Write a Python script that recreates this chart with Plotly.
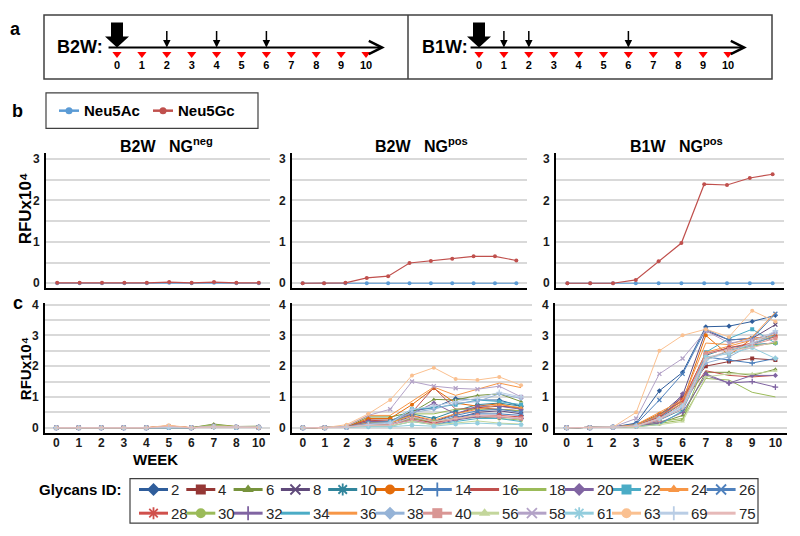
import plotly.graph_objects as go

# The page body has an 8px margin: the figure is drawn 8px in from the window corner.
OFF = 8
W, H = 784, 520
FONT = "Liberation Sans"

# ---------------- Panel a: immunisation schedule ----------------
schedule_weeks = [0, 1, 2, 3, 4, 5, 6, 7, 8, 9, 10]
prime_week = 0
b2w_boost_weeks = [2, 4, 6]
b1w_boost_weeks = [1, 2, 6]

# ---------------- Panel b: Neu5Ac / Neu5Gc ----------------
weeks_b2w_neg = ["0", "1", "2", "3", "4", "5", "6", "7", "8", "10"]
weeks_b2w_pos = ["0", "1", "2", "3", "4", "5", "6", "7", "8", "9", "10"]
weeks_b1w_pos = ["0", "1", "2", "3", "5", "6", "7", "8", "9", "10"]

neu5ac_b2w_neg = [0.00, 0.00, 0.00, 0.00, 0.00, 0.01, 0.00, 0.01, 0.00, 0.00]
neu5gc_b2w_neg = [0.01, 0.01, 0.01, 0.01, 0.01, 0.03, 0.01, 0.03, 0.01, 0.01]
neu5ac_b2w_pos = [0.00, 0.00, 0.00, 0.00, 0.00, 0.00, 0.00, 0.00, 0.00, 0.00, 0.00]
neu5gc_b2w_pos = [0.00, 0.00, 0.01, 0.13, 0.17, 0.49, 0.54, 0.59, 0.65, 0.65, 0.55]
neu5ac_b1w_pos = [0.00, 0.00, 0.00, 0.00, 0.00, 0.00, 0.00, 0.00, 0.00, 0.00]
neu5gc_b1w_pos = [0.00, 0.00, 0.00, 0.08, 0.53, 0.97, 2.39, 2.37, 2.54, 2.63]

# ---------------- Panel c: individual glycans ----------------
glycan_ids = ["2", "4", "6", "8", "10", "12", "14", "16", "18", "20", "22", "24", "26",
              "28", "30", "32", "34", "36", "38", "40", "56", "58", "61", "63", "69", "75"]
glycan_colors = ["#2F5D9B", "#953735", "#77933C", "#604A7B", "#31859C", "#E46C0A", "#4A7EBB",
                 "#C0504D", "#9BBB59", "#8064A2", "#4BACC6", "#F79646", "#4F81BD",
                 "#D0504C", "#9BBB59", "#8064A2", "#4BACC6", "#F79646", "#95B3D7", "#D99694",
                 "#C3D69B", "#B3A2C7", "#93CDDD", "#FAC090", "#B9CDE5", "#E6B9B8"]
glycan_symbols = ["diamond", "square", "triangle-up", "x-thin-open", "asterisk-open", "circle",
                  "cross-thin-open", None, None, "diamond", "square", "triangle-up", "x-thin-open",
                  "asterisk-open", "circle", "cross-thin-open", None, None, "diamond", "square",
                  "triangle-up", "x-thin-open", "asterisk-open", "circle", "cross-thin-open", None]

# B2W NGneg (weeks 0,1,2,3,4,5,6,7,8,10), one row per glycan in glycan_ids order
gly_b2w_neg = [
    [0, 0, 0, 0, 0, 0.03, 0, 0.04, 0.02, 0.01],   # 2
    [0, 0, 0, 0, 0, 0.02, 0, 0.03, 0.02, 0.01],   # 4
    [0, 0, 0, 0, 0, 0.04, 0, 0.12, 0.04, 0.05],   # 6
    [0, 0, 0, 0, 0, 0.03, 0, 0.05, 0.02, 0.02],   # 8
    [0, 0, 0, 0, 0, 0.01, 0, 0.03, 0.02, 0.01],   # 10
    [0, 0, 0, 0, 0, 0.05, 0, 0.06, 0.03, 0.02],   # 12
    [0, 0, 0, 0, 0, 0.02, 0, 0.04, 0.02, 0.01],   # 14
    [0, 0, 0, 0, 0, 0.06, 0, 0.05, 0.03, 0.02],   # 16
    [0, 0, 0, 0, 0, 0.03, 0, 0.10, 0.03, 0.04],   # 18
    [0, 0, 0, 0, 0, 0.02, 0, 0.06, 0.02, 0.02],   # 20
    [0, 0, 0, 0, 0, 0.01, 0, 0.03, 0.01, 0.01],   # 22
    [0, 0, 0, 0, 0, 0.04, 0, 0.05, 0.03, 0.02],   # 24
    [0, 0, 0, 0, 0, 0.02, 0, 0.04, 0.02, 0.01],   # 26
    [0, 0, 0, 0, 0, 0.03, 0, 0.03, 0.02, 0.01],   # 28
    [0, 0, 0, 0, 0, 0.02, 0, 0.07, 0.03, 0.03],   # 30
    [0, 0, 0, 0, 0, 0.02, 0, 0.04, 0.02, 0.01],   # 32
    [0, 0, 0, 0, 0, 0.01, 0, 0.02, 0.01, 0.01],   # 34
    [0, 0, 0, 0, 0, 0.06, 0, 0.04, 0.03, 0.02],   # 36
    [0, 0, 0, 0, 0, 0.02, 0, 0.03, 0.02, 0.01],   # 38
    [0, 0, 0, 0, 0, 0.05, 0, 0.03, 0.02, 0.01],   # 40
    [0, 0, 0, 0, 0, 0.02, 0, 0.06, 0.03, 0.03],   # 56
    [0, 0, 0, 0, 0, 0.03, 0, 0.04, 0.02, 0.01],   # 58
    [0, 0, 0, 0, 0, 0.01, 0, 0.02, 0.01, 0.01],   # 61
    [0, 0, 0, 0, 0, 0.08, 0, 0.02, 0.02, 0.01],   # 63
    [0, 0, 0, 0, 0, 0.02, 0, 0.03, 0.02, 0.01],   # 69
    [0, 0, 0, 0, 0, 0.04, 0, 0.03, 0.02, 0.01],   # 75
]

# B2W NGpos (weeks 0..10)
gly_b2w_pos = [
    [0, 0, 0.02, 0.15, 0.20, 0.55, 0.65, 0.95, 0.90, 0.90, 0.70],   # 2
    [0, 0, 0.02, 0.25, 0.25, 0.40, 0.20, 0.45, 0.65, 0.70, 0.65],   # 4
    [0, 0, 0.02, 0.35, 0.35, 0.50, 0.92, 0.90, 1.05, 1.10, 0.85],   # 6
    [0, 0, 0.02, 0.20, 0.18, 0.35, 0.15, 0.30, 0.50, 0.55, 0.45],   # 8
    [0, 0, 0.02, 0.10, 0.15, 0.45, 0.30, 0.55, 0.75, 0.80, 0.70],   # 10
    [0, 0, 0.02, 0.30, 0.30, 0.75, 1.28, 0.80, 0.70, 0.78, 0.60],   # 12
    [0, 0, 0.02, 0.10, 0.10, 0.30, 0.15, 0.35, 0.45, 0.45, 0.40],   # 14
    [0, 0, 0.02, 0.25, 0.20, 0.50, 1.30, 0.60, 0.65, 0.60, 0.55],   # 16
    [0, 0, 0.02, 0.20, 0.15, 0.45, 0.45, 0.60, 0.60, 0.60, 0.55],   # 18
    [0, 0, 0.02, 0.20, 0.20, 0.45, 0.80, 0.45, 0.70, 0.70, 0.60],   # 20
    [0, 0, 0.02, 0.15, 0.20, 0.60, 0.65, 0.75, 0.90, 0.85, 0.75],   # 22
    [0, 0, 0.02, 0.15, 0.15, 0.40, 0.25, 0.45, 0.60, 0.75, 0.65],   # 24
    [0, 0, 0.02, 0.10, 0.10, 0.35, 0.20, 0.40, 0.55, 0.60, 0.50],   # 26
    [0, 0, 0.02, 0.10, 0.10, 0.30, 0.15, 0.30, 0.40, 0.40, 0.35],   # 28
    [0, 0, 0.02, 0.10, 0.10, 0.30, 0.20, 0.30, 0.35, 0.30, 0.25],   # 30
    [0, 0, 0.02, 0.12, 0.12, 0.25, 0.10, 0.25, 0.35, 0.35, 0.30],   # 32
    [0, 0, 0.02, 0.05, 0.05, 0.20, 0.10, 0.20, 0.30, 0.30, 0.20],   # 34
    [0, 0, 0.05, 0.40, 0.40, 0.85, 1.32, 1.05, 1.25, 1.45, 1.30],   # 36
    [0, 0, 0.02, 0.12, 0.18, 0.50, 0.60, 0.80, 0.85, 1.10, 0.95],   # 38
    [0, 0, 0.02, 0.08, 0.10, 0.25, 0.12, 0.30, 0.40, 0.35, 0.30],   # 40
    [0, 0, 0.02, 0.05, 0.05, 0.20, 0.10, 0.15, 0.22, 0.15, 0.12],   # 56
    [0, 0, 0.05, 0.40, 0.60, 1.50, 1.35, 1.28, 1.25, 1.35, 1.00],   # 58
    [0, 0, 0.02, 0.03, 0.03, 0.08, 0.05, 0.12, 0.15, 0.12, 0.10],   # 61
    [0, 0, 0.10, 0.45, 0.90, 1.70, 1.95, 1.58, 1.55, 1.65, 1.38],   # 63
    [0, 0, 0.02, 0.10, 0.15, 0.60, 0.70, 0.85, 0.95, 1.15, 1.00],   # 69
    [0, 0, 0.02, 0.08, 0.08, 0.35, 0.20, 0.30, 0.40, 0.38, 0.30],   # 75
]

# B1W NGpos (weeks 0,1,2,3,5,6,7,8,9,10)
gly_b1w_pos = [
    [0, 0, 0.02, 0.15, 1.20, 1.80, 3.28, 3.30, 3.45, 3.65],   # 2
    [0, 0, 0.02, 0.10, 0.30, 1.00, 2.00, 2.15, 2.25, 2.20],   # 4
    [0, 0, 0.02, 0.05, 0.15, 0.40, 1.80, 1.80, 1.70, 1.90],   # 6
    [0, 0, 0.02, 0.10, 0.40, 1.05, 3.15, 2.85, 2.90, 3.35],   # 8
    [0, 0, 0.02, 0.05, 0.25, 0.60, 2.35, 2.60, 2.70, 2.75],   # 10
    [0, 0, 0.02, 0.10, 0.45, 0.85, 3.00, 2.35, 2.90, 3.00],   # 12
    [0, 0, 0.02, 0.10, 0.40, 0.90, 2.30, 2.20, 2.10, 2.25],   # 14
    [0, 0, 0.02, 0.08, 0.30, 0.80, 1.85, 1.70, 1.65, 1.70],   # 16
    [0, 0, 0.02, 0.05, 0.20, 0.30, 1.60, 1.55, 1.15, 1.00],   # 18
    [0, 0, 0.02, 0.08, 0.20, 1.10, 1.75, 1.45, 1.70, 1.70],   # 20
    [0, 0, 0.02, 0.08, 0.35, 0.80, 2.45, 2.90, 3.20, 2.75],   # 22
    [0, 0, 0.02, 0.08, 0.40, 0.80, 2.45, 2.65, 2.85, 2.95],   # 24
    [0, 0, 0.02, 0.12, 0.90, 1.75, 3.20, 2.85, 2.90, 3.70],   # 26
    [0, 0, 0.02, 0.06, 0.35, 0.90, 2.40, 2.60, 2.75, 2.95],   # 28
    [0, 0, 0.02, 0.03, 0.15, 0.25, 2.20, 2.50, 2.65, 2.75],   # 30
    [0, 0, 0.02, 0.05, 0.15, 0.50, 1.70, 1.45, 1.50, 1.32],   # 32
    [0, 0, 0.02, 0.04, 0.10, 0.55, 2.20, 2.50, 2.70, 3.00],   # 34
    [0, 0, 0.02, 0.10, 0.50, 0.90, 2.75, 2.70, 2.95, 3.75],   # 36
    [0, 0, 0.02, 0.05, 0.25, 0.65, 2.10, 2.30, 2.70, 3.10],   # 38
    [0, 0, 0.02, 0.05, 0.25, 0.75, 2.40, 2.55, 2.70, 2.90],   # 40
    [0, 0, 0.02, 0.03, 0.10, 0.20, 1.65, 1.75, 1.75, 1.85],   # 56
    [0, 0, 0.02, 0.30, 1.75, 2.25, 3.15, 2.75, 2.85, 3.10],   # 58
    [0, 0, 0.02, 0.05, 0.30, 0.70, 2.30, 2.40, 2.60, 2.25],   # 61
    [0, 0, 0.02, 0.50, 2.50, 3.00, 3.20, 2.95, 3.80, 3.45],   # 63
    [0, 0, 0.02, 0.06, 0.30, 0.70, 2.20, 2.45, 2.75, 3.15],   # 69
    [0, 0, 0.02, 0.04, 0.30, 0.60, 2.25, 2.50, 2.60, 2.80],   # 75
]

NEU5AC_COLOR = "#5B9BD5"
NEU5GC_COLOR = "#C0504D"


def fx(p):
    """window pixel x -> paper fraction"""
    return (p - OFF) / W


def fy(p):
    """window pixel y -> paper fraction"""
    return 1 - (p - OFF) / H


fig = go.Figure()
annotations = []
shapes = []

# ---------------- Panel a ----------------
WEEK0_PX = [117, 479]
BOX_X = [(44, 408), (408, 772)]
SPACING = 24.9
LINE_PX = 43
a_boosts = [b2w_boost_weeks, b1w_boost_weeks]
a_names = ["B2W:", "B1W:"]
a_name_x = [80, 445]

layout_axes = {}
for i in range(2):
    xn = "x" if i == 0 else "x2"
    yn = "y" if i == 0 else "y2"
    xkey = "xaxis" if i == 0 else "xaxis2"
    ykey = "yaxis" if i == 0 else "yaxis2"
    left, right = BOX_X[i]
    layout_axes[xkey] = dict(domain=[fx(left), fx(right)], anchor=yn, visible=False,
                             range=[(left - WEEK0_PX[i]) / SPACING, (right - WEEK0_PX[i]) / SPACING],
                             fixedrange=True)
    layout_axes[ykey] = dict(domain=[fy(75), fy(10)], anchor=xn, visible=False,
                             range=[LINE_PX - 75, LINE_PX - 10], fixedrange=True)
    fig.add_trace(go.Scatter(x=schedule_weeks, y=[-6.5] * len(schedule_weeks), mode="markers",
                             marker=dict(symbol="triangle-down", size=8, color="#FF0000"),
                             xaxis=xn, yaxis=yn, showlegend=False, hoverinfo="skip"))
    fig.add_trace(go.Scatter(x=schedule_weeks, y=[-19] * len(schedule_weeks), mode="text",
                             text=[str(w) for w in schedule_weeks],
                             textfont=dict(family=FONT, size=11, color="black", weight="bold"),
                             xaxis=xn, yaxis=yn, showlegend=False, hoverinfo="skip"))
    annotations.append(dict(xref=xn, yref=yn, axref=xn, ayref=yn, x=10.76, y=0, ax=-0.4, ay=0,
                            text="", showarrow=True, arrowhead=5, arrowwidth=2, arrowsize=1.3,
                            arrowcolor="black"))
    for w in a_boosts[i]:
        annotations.append(dict(xref=xn, yref=yn, x=w, y=0, ax=0, ay=-18, text="",
                                showarrow=True, arrowhead=2, arrowwidth=1.5, arrowsize=1,
                                arrowcolor="black"))
    shapes.append(dict(type="path", xref=xn, yref=yn, xsizemode="pixel", ysizemode="pixel",
                       xanchor=prime_week, yanchor=0,
                       path="M0,0 L-12,11 L-6,11 L-6,25 L6,25 L6,11 L12,11 Z",
                       fillcolor="black", line=dict(width=0)))
    annotations.append(dict(xref="paper", yref="paper", x=fx(a_name_x[i]), y=fy(42), text=a_names[i],
                            showarrow=False, font=dict(family=FONT, size=18, color="black", weight="bold"),
                            xanchor="center", yanchor="middle"))

shapes.append(dict(type="rect", xref="paper", yref="paper", x0=fx(44), x1=fx(772), y0=fy(75), y1=fy(10),
                   line=dict(color="#404040", width=1.5)))
shapes.append(dict(type="line", xref="paper", yref="paper", x0=fx(408), x1=fx(408), y0=fy(75), y1=fy(10),
                   line=dict(color="#404040", width=1.5)))

# ---------------- Panels b and c ----------------
GRID = "#D9D9D9"
tickfont = dict(family=FONT, size=12, color="#1A1A1A", weight="bold")


def add_axes(idx, xdom, ydom, yrange, ncat, show_x, dtick_max):
    xkey, ykey = f"xaxis{idx}", f"yaxis{idx}"
    layout_axes[xkey] = dict(domain=[fx(xdom[0]), fx(xdom[1])], anchor=f"y{idx}", type="category",
                             range=[-0.5, ncat - 0.5], showline=True, linecolor="black", linewidth=2,
                             showgrid=False, zeroline=False, ticks="", showticklabels=show_x,
                             tickfont=dict(family=FONT, size=12, color="#1A1A1A", weight="bold"),
                             ticklabelstandoff=-3, fixedrange=True)
    layout_axes[ykey] = dict(domain=[fy(ydom[1]), fy(ydom[0])], anchor=f"x{idx}", range=yrange,
                             tickmode="array", tickvals=list(range(dtick_max + 1)),
                             showgrid=True, gridcolor=GRID, gridwidth=1.5,
                             minor=dict(dtick=0.5, tick0=0, showgrid=True, gridcolor=GRID, gridwidth=1.5),
                             showline=True, linecolor="black", linewidth=2, zeroline=False, ticks="",
                             tickfont=tickfont, ticklabelstandoff=2, fixedrange=True)


add_axes(3, (46, 270), (150, 287), [-0.12, 3.14], len(weeks_b2w_neg), False, 3)
add_axes(4, (292, 527), (150, 287), [-0.12, 3.14], len(weeks_b2w_pos), False, 3)
add_axes(5, (556, 784), (150, 287), [-0.12, 3.14], len(weeks_b1w_pos), False, 3)
add_axes(6, (45, 270), (302, 434), [-0.18, 4.05], len(weeks_b2w_neg), True, 4)
add_axes(7, (292, 532), (302, 434), [-0.18, 4.05], len(weeks_b2w_pos), True, 4)
add_axes(8, (555, 787), (302, 434), [-0.18, 4.05], len(weeks_b1w_pos), True, 4)

b_sets = [(3, weeks_b2w_neg, neu5ac_b2w_neg, neu5gc_b2w_neg),
          (4, weeks_b2w_pos, neu5ac_b2w_pos, neu5gc_b2w_pos),
          (5, weeks_b1w_pos, neu5ac_b1w_pos, neu5gc_b1w_pos)]
for idx, wk, ac, gc in b_sets:
    for vals, col in [(ac, NEU5AC_COLOR), (gc, NEU5GC_COLOR)]:
        fig.add_trace(go.Scatter(x=wk, y=vals, mode="lines+markers", line=dict(color=col, width=1.2),
                                 marker=dict(size=4, color=col), xaxis=f"x{idx}", yaxis=f"y{idx}",
                                 showlegend=False, hoverinfo="skip"))


def marker_for(sym, col, size):
    if sym is None:
        return None
    if sym.endswith("-open"):
        return dict(symbol=sym, size=size, color=col, line=dict(color=col, width=1.3))
    return dict(symbol=sym, size=size, color=col, line=dict(width=0))


c_sets = [(6, weeks_b2w_neg, gly_b2w_neg), (7, weeks_b2w_pos, gly_b2w_pos), (8, weeks_b1w_pos, gly_b1w_pos)]
for idx, wk, rows in c_sets:
    for g in range(len(glycan_ids)):
        sym, col = glycan_symbols[g], glycan_colors[g]
        mk = marker_for(sym, col, 4)
        fig.add_trace(go.Scatter(x=wk, y=rows[g], mode="lines+markers" if mk else "lines",
                                 line=dict(color=col, width=1), marker=mk,
                                 xaxis=f"x{idx}", yaxis=f"y{idx}", name=glycan_ids[g],
                                 showlegend=False, hoverinfo="skip"))

# ---------------- Overlay pixel axis for legends ----------------
layout_axes["xaxis9"] = dict(domain=[0, 1], anchor="y9", range=[OFF, OFF + W], visible=False, fixedrange=True)
layout_axes["yaxis9"] = dict(domain=[0, 1], anchor="x9", range=[OFF + H, OFF], visible=False, fixedrange=True)

# Neu5Ac / Neu5Gc legend
shapes.append(dict(type="rect", xref="paper", yref="paper", x0=fx(46), x1=fx(258), y0=fy(125), y1=fy(89),
                   line=dict(color="#404040", width=1.2)))
b_leg = [("Neu5Ac", NEU5AC_COLOR, 59), ("Neu5Gc", NEU5GC_COLOR, 153)]
for name, col, x0 in b_leg:
    fig.add_trace(go.Scatter(x=[x0, x0 + 20], y=[107, 107], mode="lines", line=dict(color=col, width=2.5),
                             xaxis="x9", yaxis="y9", showlegend=False, hoverinfo="skip"))
    fig.add_trace(go.Scatter(x=[x0 + 10], y=[107], mode="markers", marker=dict(size=7, color=col),
                             xaxis="x9", yaxis="y9", showlegend=False, hoverinfo="skip"))
    annotations.append(dict(xref="paper", yref="paper", x=fx(x0 + 23), y=fy(107), text=name, showarrow=False,
                            xanchor="left", yanchor="middle",
                            font=dict(family=FONT, size=15, color="black", weight="bold")))

# Glycan legend
shapes.append(dict(type="rect", xref="paper", yref="paper", x0=fx(130), x1=fx(758), y0=fy(525), y1=fy(480),
                   line=dict(color="#404040", width=1.2)))
annotations.append(dict(xref="paper", yref="paper", x=fx(124), y=fy(491), text="Glycans ID:", showarrow=False,
                        xanchor="right", yanchor="middle",
                        font=dict(family=FONT, size=15, color="black", weight="bold")))
per_row = 13
for g in range(len(glycan_ids)):
    row, col_i = divmod(g, per_row)
    x0 = 139 + 47.3 * col_i
    yy = 491 + 24 * row
    col = glycan_colors[g]
    fig.add_trace(go.Scatter(x=[x0, x0 + 29], y=[yy, yy], mode="lines", line=dict(color=col, width=3),
                             xaxis="x9", yaxis="y9", showlegend=False, hoverinfo="skip"))
    mk = marker_for(glycan_symbols[g], col, 10)
    if mk:
        if mk["symbol"].endswith("-open"):
            mk["line"]["width"] = 1.8
        fig.add_trace(go.Scatter(x=[x0 + 14.5], y=[yy], mode="markers", marker=mk,
                                 xaxis="x9", yaxis="y9", showlegend=False, hoverinfo="skip"))
    annotations.append(dict(xref="paper", yref="paper", x=fx(x0 + 30), y=fy(yy), text=glycan_ids[g],
                            showarrow=False, xanchor="left", yanchor="middle",
                            font=dict(family=FONT, size=15, color="#262626")))


# ---------------- Text labels ----------------
def txt(x, y, s, size, angle=0, anchor="center"):
    annotations.append(dict(xref="paper", yref="paper", x=fx(x), y=fy(y), text=s, showarrow=False,
                            xanchor=anchor, yanchor="middle", textangle=angle,
                            font=dict(family=FONT, size=size, color="black", weight="bold")))


txt(15, 24, "a", 18)
txt(17, 107, "b", 18)
txt(18, 302, "c", 18)
NB = "\u00a0"
txt(166, 142, f"B2W{NB*3}NG<sup>neg</sup>", 16)
txt(421, 142, f"B2W{NB*3}NG<sup>pos</sup>", 16)
txt(676, 142, f"B1W{NB*3}NG<sup>pos</sup>", 16)
txt(25, 206, "RFUx10\u2074", 17, -90)
txt(25, 369, "RFUx10\u2074", 15, -90)
txt(155, 461, "WEEK", 15)
txt(415, 461, "WEEK", 15)
txt(671, 461, "WEEK", 15)

fig.update_layout(width=W, height=H, margin=dict(l=0, r=0, t=0, b=0), paper_bgcolor="white",
                  plot_bgcolor="rgba(0,0,0,0)", showlegend=False, annotations=annotations, shapes=shapes,
                  font=dict(family=FONT), **layout_axes)

fig.write_html("out.html")
